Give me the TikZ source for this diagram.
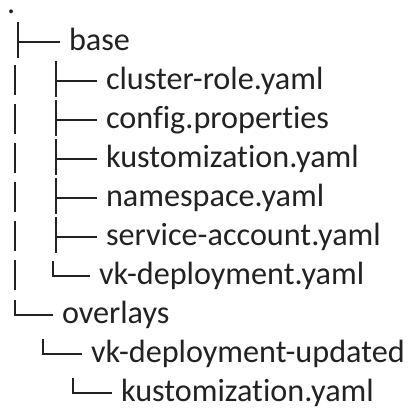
\documentclass[tikz,border=0pt]{standalone}
\usepackage{fontspec}
\setmainfont{Carlito}[Ligatures={NoCommon}]
\definecolor{ink}{HTML}{222222}
\begin{document}
\begin{tikzpicture}[x=1pt,y=-1pt,
  entry/.style={anchor=base west,inner sep=0pt,outer sep=0pt,text=ink,
    font=\fontsize{32.2}{38}\selectfont},
  trunk/.style={draw=ink,line width=2pt},
  twig/.style={draw=ink,line width=1.5pt}]
\useasboundingbox (0,0) rectangle (409,408);

% root
\node[entry,text height=4pt] (root) at (7,13) {.};

% entries: baseline sits 8 units below each row's branch line
\node[entry] (base)    at (69,50)  {base};
\node[entry] (crole)   at (106,89) {cluster-role.yaml};
\node[entry] (cfg)     at (106,128) {config.properties};
\node[entry] (kbase)   at (106,167) {kustomization.yaml};
\node[entry] (ns)      at (106,206) {namespace.yaml};
\node[entry] (sa)      at (106,245) {service-account.yaml};
\node[entry] (vkd)     at (99,284) {vk-deployment.yaml};
\node[entry] (ovl)     at (62,323) {overlays};
\node[entry] (vkdu)    at (91,362) {vk-deployment-updated};
\node[entry] (kovl)    at (121,401) {kustomization.yaml};

% branch points (x of the vertical stroke, y of the branch line)
\coordinate (b0) at (18,42);
\coordinate (b1) at (56,81);
\coordinate (b2) at (56,120);
\coordinate (b3) at (56,159);
\coordinate (b4) at (56,198);
\coordinate (b5) at (56,237);
\coordinate (b6) at (53,276);
\coordinate (b7) at (15,315);
\coordinate (b8) at (43,354);
\coordinate (b9) at (73,393);

% tee branches: vertical stroke plus horizontal dash
\foreach \p/\n in {b0/base,b1/crole,b2/cfg,b3/kbase,b4/ns,b5/sa}{
  \draw[trunk] ([yshift=20pt]\p) -- ([yshift=-16pt]\p);
  \draw[twig] (\p) -- ([xshift=-9pt]\p -| \n.west);
}
% corner branches
\foreach \p/\n in {b6/vkd,b7/ovl,b8/vkdu,b9/kovl}{
  \draw[trunk] ([yshift=15pt]\p) -- ([yshift=-0.75pt]\p);
  \draw[twig] (\p) -- ([xshift=-9pt]\p -| \n.west);
}

% continuation bars of the first level
\foreach \y in {81,120,159,198,237,276}{
  \draw[trunk] (15,\y-16) -- (15,\y+14);
}
\end{tikzpicture}
\end{document}
